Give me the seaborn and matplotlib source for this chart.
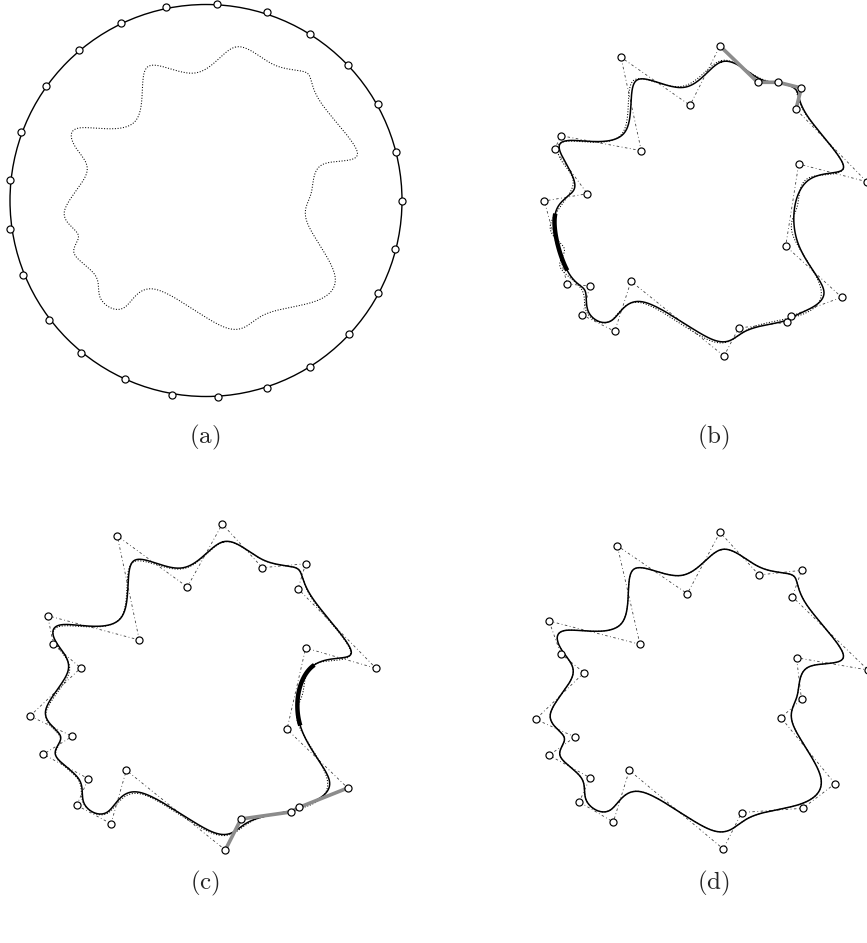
import numpy as np
import pandas as pd
import matplotlib
matplotlib.use("Agg")
import matplotlib.pyplot as plt
import seaborn as sns
from matplotlib.patches import Circle

# ---------------- data (pixel coordinates) ----------------
# (a) sample points on the initial circle
a_x = [166, 217, 266.7, 310, 348.3, 377.7, 396, 402.3, 395, 377.7, 349, 310, 267,
       218.3, 171.7, 125.3, 81, 49.3, 23.3, 10, 10, 20.7, 45.7, 79.3, 121]
a_y = [7.3, 4.3, 12.3, 34.3, 65, 104.3, 152, 201.3, 249, 293.3, 334.3, 367.3, 388.3,
       397.3, 395, 379, 352.7, 319.7, 275, 228.7, 179.7, 131.7, 86, 49.7, 22.7]
circle_center = (206, 200.5)
circle_radius = 196

# (b) control points
b_x = [720, 757.7, 778.3, 801.3, 796, 866.7, 798.7, 785.7, 841.7, 791.3, 787.3, 738.7,
       724, 631, 614.7, 582.3, 590, 567.3, 544.3, 587.3, 554.7, 561, 641.3, 621, 690]
b_y = [46, 82.3, 82.3, 88, 109.3, 181.7, 164, 246, 297.3, 315.7, 322.3, 328,
       356, 281.3, 331.3, 315, 286, 284, 201, 193.7, 149, 135.7, 150.7, 57.3, 105.3]

# (c) control points
c_x = [222.3, 262.3, 305.7, 298, 376, 305.7, 287, 347.7, 299.3, 290.7, 241, 225.3,
       126.3, 111, 76.7, 88.3, 43.3, 72.3, 30, 80.7, 53.3, 47.7, 139.3, 117.3, 187.3]
c_y = [524, 567.7, 563.7, 588.7, 668.3, 648, 729.3, 788, 807.3, 812, 819, 850,
       770.3, 823.7, 805.3, 778.7, 754.3, 736.3, 716, 668, 644.3, 615.7, 640, 536, 587]

# (d) control points (final fit == target shape)
d_x = [720, 759, 801.7, 792.3, 868, 796.5, 801.5, 781, 835, 802.7, 741.7, 723.3,
       629.3, 613.3, 579.3, 590, 549, 575, 535.7, 584, 560.7, 549, 640, 617.3, 687.3]
d_y = [532.3, 575, 570.3, 596.7, 670, 657.7, 699.3, 717.7, 783.7, 808.3, 812.5, 849,
       770.3, 822, 802, 777.7, 755.3, 737, 719.3, 672.7, 653.7, 621, 644.3, 545.7, 593.7]

# placement of the dotted target curve (scale, dx, dy) relative to panel (d)
target_place = {"a": (1.0, -486, -502.5), "b": (1.0, 0, -489),
                "c": (1.04, -526.5, -29.6), "d": (1.0, 0, 0)}

# highlighted pieces
b_grey_idx = [0, 1, 2, 3, 4]          # grey control-polygon piece in (b)
c_grey_idx = [11, 10, 9, 8, 7]        # grey control-polygon piece in (c)
b_thick_span = 17                      # thick curve span in (b)
c_thick_span = 5                       # thick curve span in (c)

labels = ["(a)", "(b)", "(c)", "(d)"]
label_pos = [(205, 437), (713, 437), (205, 883), (713, 883)]


# ---------------- helpers ----------------
def span(P, i, n=40):
    N = len(P)
    t = np.linspace(0, 1, n)[:, None]
    b0 = (1 - t) ** 3 / 6
    b1 = (3 * t ** 3 - 6 * t ** 2 + 4) / 6
    b2 = (-3 * t ** 3 + 3 * t ** 2 + 3 * t + 1) / 6
    b3 = t ** 3 / 6
    return b0 * P[(i - 1) % N] + b1 * P[i % N] + b2 * P[(i + 1) % N] + b3 * P[(i + 2) % N]


def closed_bspline(P, n=40):
    P = np.asarray(P, dtype=float)
    pts = np.vstack([span(P, i, n)[:-1] for i in range(len(P))])
    return np.vstack([pts, pts[:1]])


sns.set_style("white")
plt.rcParams["mathtext.fontset"] = "cm"

fig = plt.figure(figsize=(8.67, 9.43), dpi=100)
ax = fig.add_axes([0, 0, 1, 1])
ax.set_xlim(0, 867)
ax.set_ylim(943, 0)
ax.axis("off")

D = np.column_stack([d_x, d_y]).astype(float)
target_curve = closed_bspline(D)


def draw_target(key):
    s, dx, dy = target_place[key]
    tc = target_curve * s + np.array([dx, dy])
    ax.plot(tc[:, 0], tc[:, 1], color="black", lw=0.75, ls=(0, (1, 1.6)), zorder=2)


def draw_points(xs, ys):
    sns.scatterplot(x=xs, y=ys, ax=ax, s=26, facecolor="white", edgecolor="black",
                    linewidth=0.85, zorder=6, legend=False)


# ---- (a)
ax.add_patch(Circle(circle_center, circle_radius, fill=False, ec="black", lw=1.0, zorder=3))
draw_target("a")
draw_points(a_x, a_y)

# ---- (b), (c), (d)
panels = {"b": (b_x, b_y), "c": (c_x, c_y), "d": (d_x, d_y)}
for key, (xs, ys) in panels.items():
    P = np.column_stack([xs, ys]).astype(float)
    poly = np.vstack([P, P[:1]])
    ax.plot(poly[:, 0], poly[:, 1], color="0.25", lw=0.6,
            ls=(0, (3, 3, 1, 3)), zorder=1)
    draw_target(key)
    curve = closed_bspline(P)
    df = pd.DataFrame({"x": curve[:, 0], "y": curve[:, 1]})
    sns.lineplot(data=df, x="x", y="y", sort=False, estimator=None, ax=ax,
                 color="black", lw=1.1, zorder=3)
    if key == "b":
        g = P[b_grey_idx]
        ax.plot(g[:, 0], g[:, 1], color="0.55", lw=2.6, solid_capstyle="round", zorder=4)
        th = span(P, b_thick_span)
        ax.plot(th[:, 0], th[:, 1], color="black", lw=3.2, solid_capstyle="butt", zorder=5)
    if key == "c":
        g = P[c_grey_idx]
        ax.plot(g[:, 0], g[:, 1], color="0.55", lw=2.6, solid_capstyle="round", zorder=4)
        th = span(P, c_thick_span)
        ax.plot(th[:, 0], th[:, 1], color="black", lw=3.2, solid_capstyle="butt", zorder=5)
    draw_points(xs, ys)

for lab, (x, y) in zip(labels, label_pos):
    ax.text(x, y, r"$\mathrm{" + lab + "}$", fontsize=18, ha="center", va="center")

ax.set_xlabel("")
ax.set_ylabel("")
fig.savefig("out.png", dpi=100)
